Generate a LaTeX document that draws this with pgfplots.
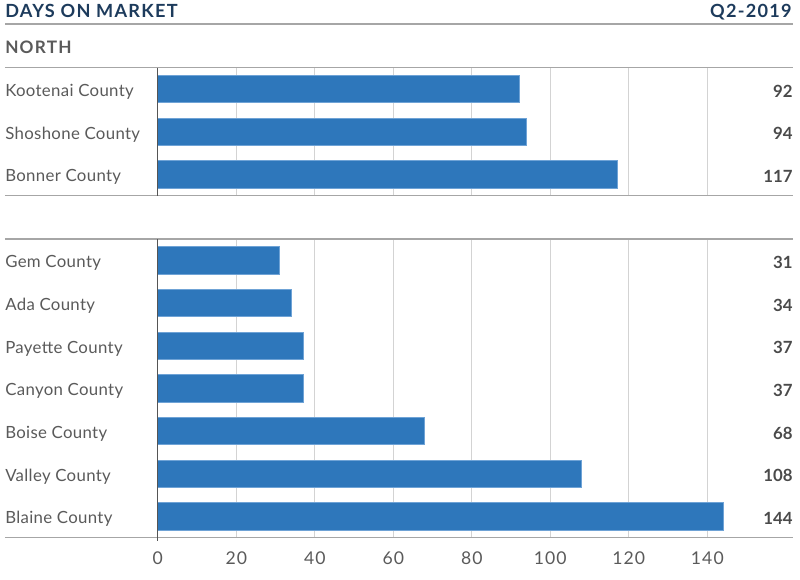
\documentclass[border=0pt]{standalone}
\usepackage{fontspec}
\setmainfont{Lato}
\newfontfamily\titlefont[LetterSpace=7]{Lato}
\newfontfamily\labfont[LetterSpace=2]{Lato}
\newfontfamily\tickfont[LetterSpace=6]{Lato}
\usepackage{pgfplots}
\pgfplotsset{compat=1.18}
\definecolor{barblue}{HTML}{2E77BB}
\definecolor{baredge}{HTML}{6FA3D6}
\definecolor{navy}{HTML}{1D3B5C}
\definecolor{txtgray}{HTML}{5A5A5A}
\definecolor{valgray}{HTML}{4A4A4A}
\definecolor{gridgray}{HTML}{D3D3D3}
\definecolor{linegray}{HTML}{A6A6A6}
\definecolor{axisgray}{HTML}{555555}
\pgfplotsset{
  mystyle/.style={
    scale only axis, width=476.4pt, xmin=0, xmax=161.8,
    y dir=reverse, ymin=0.5,
    axis line style={draw=none},
    xmajorgrids, grid style={gridgray, line width=0.75pt},
    xtick={0,20,...,140},
    major tick length=0pt,
    yticklabel style={anchor=west, xshift=-114.55pt, yshift=-2pt, inner sep=0pt, font=\fontsize{12.6}{15}\labfont, text=txtgray},
    xticklabel style={anchor=north, inner sep=0pt, yshift=-10.5pt, font=\fontsize{13.2}{15}\tickfont, text=txtgray},
    clip=false,
    /pgf/number format/assume math mode=true,
  },
  valstyle/.style={only marks, mark=*, mark size=0pt, mark options={draw=none, fill=none},
    nodes near coords, point meta=explicit symbolic,
    nodes near coords style={anchor=east, inner sep=0pt, yshift=-1.5pt, font=\fontsize{12.6}{15}\selectfont\bfseries, text=valgray}},
  barstyle/.style={xbar, bar width=20.5pt, fill=barblue, draw=baredge, line width=0.5pt},
}
\begin{document}
\begin{tikzpicture}
\path (0,0) rectangle (600pt,435pt);
\node[anchor=base west, inner sep=0pt, text=navy, font=\fontsize{13.6}{16}\titlefont\bfseries] at (3.75pt,421.5pt) {DAYS ON MARKET};
\node[anchor=base east, inner sep=0pt, text=navy, font=\fontsize{13.6}{16}\titlefont\bfseries] at (594pt,421.5pt) {Q2-2019};
\draw[linegray, line width=0.9pt] (3.75pt,417pt) -- (594.75pt,417pt);
\node[anchor=base west, inner sep=0pt, text=txtgray, font=\fontsize{12.9}{15}\titlefont\bfseries] at (3.75pt,394.5pt) {NORTH};

\begin{axis}[mystyle, at={(118.3pt,288.2pt)}, anchor=south west, height=96pt, ymax=3.5,
  ytick={1,2,3}, yticklabels={Kootenai County, Shoshone County, Bonner County}, xticklabels={}]
\addplot[barstyle] coordinates {(92,1) (94,2) (117,3)};
\addplot[valstyle] coordinates {(161.8,1) [92] (161.8,2) [94] (161.8,3) [117]};
\draw[linegray, line width=0.9pt] ([xshift=-114.55pt]rel axis cs:0,0) -- (rel axis cs:1,0);
\draw[linegray, line width=0.9pt] ([xshift=-114.55pt]rel axis cs:0,1) -- (rel axis cs:1,1);
\draw[axisgray, line width=1.1pt] (rel axis cs:0,0) -- (rel axis cs:0,1);
\end{axis}

\begin{axis}[mystyle, at={(118.3pt,31.7pt)}, anchor=south west, height=224pt, ymax=7.5,
  ytick={1,...,7}, yticklabels={Gem County, Ada County, Payette County, Canyon County, Boise County, Valley County, Blaine County}]
\addplot[barstyle] coordinates {(31,1) (34,2) (37,3) (37,4) (68,5) (108,6) (144,7)};
\addplot[valstyle] coordinates {(161.8,1) [31] (161.8,2) [34] (161.8,3) [37] (161.8,4) [37] (161.8,5) [68] (161.8,6) [108] (161.8,7) [144]};
\draw[linegray, line width=0.9pt] ([xshift=-114.55pt]rel axis cs:0,0) -- (rel axis cs:1,0);
\draw[linegray, line width=0.9pt] ([xshift=-114.55pt]rel axis cs:0,1) -- (rel axis cs:1,1);
\draw[axisgray, line width=1.1pt] (rel axis cs:0,-0.01) -- (rel axis cs:0,1);
\end{axis}
\end{tikzpicture}
\end{document}
